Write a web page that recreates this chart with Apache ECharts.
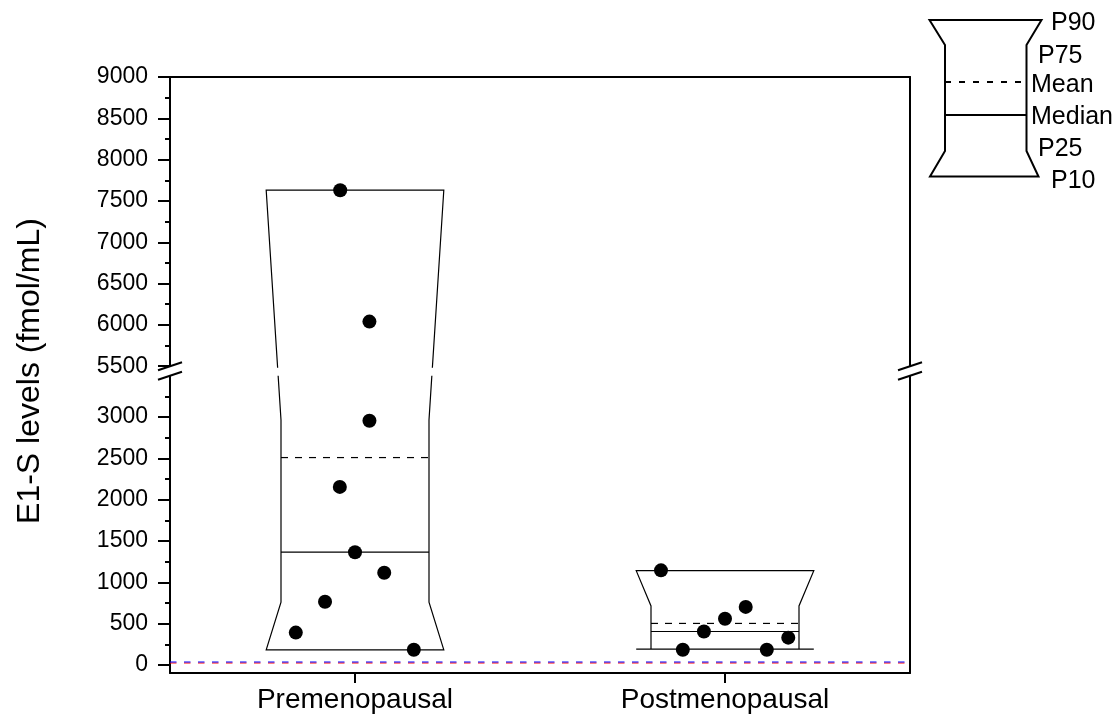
<!DOCTYPE html>
<html>
<head>
<meta charset="utf-8">
<script src="https://cdn.jsdelivr.net/npm/echarts@6/dist/echarts.min.js"></script>
<style>
html, body { margin: 0; padding: 0; background: #fff; }
#chart { width: 1118px; height: 726px; }
</style>
</head>
<body>
<div id="chart"></div>
<script>
// Groups on the x axis (positions 1 and 2)
const groups = ['Premenopausal', 'Postmenopausal'];

// Percentile summary of E1-S levels per group (fmol/mL)
const p10 = [184, 192];
const p25 = [760, 192];
const median = [1365, 405];
const mean = [2510, 503];
const p75 = [2965, 715];
const p90 = [7630, 1142];

// Individual measurements: x = group position with horizontal spread, y = level
const preX = [0.960, 1.039, 1.039, 0.959, 1.000, 1.079, 0.919, 0.840, 1.159];
const preY = [7630, 6040, 2955, 2155, 1365, 1117, 765, 392, 184];
const postX = [1.827, 2.056, 2.000, 1.943, 2.171, 1.886, 2.113];
const postY = [1145, 703, 560, 405, 331, 184, 184];

// Reference limits drawn as dashed lines
const limitBlue = 37;
const limitRed = 24;

// Y axis range, break and ticks
const yMin = -97;
const yMax = 9000;
const breakStart = 3500;
const breakEnd = 5500;
const majorTicks = [0, 500, 1000, 1500, 2000, 2500, 3000, 5500, 6000, 6500, 7000, 7500, 8000, 8500, 9000];
const minorTicks = [250, 750, 1250, 1750, 2250, 2750, 3250, 5750, 6250, 6750, 7250, 7750, 8250, 8750];
const xMin = 0.5;
const xMax = 2.5;

const FONT = '"Liberation Sans", Arial, sans-serif';
const chart = echarts.init(document.getElementById('chart'), null, { renderer: 'canvas' });

const boxData = groups.map((g, i) => [i + 1, p10[i], p25[i], median[i], mean[i], p75[i], p90[i]]);
const preData = preX.map((x, i) => [x, preY[i]]);
const postData = postX.map((x, i) => [x, postY[i]]);

const axisBreaks = [{ start: breakStart, end: breakEnd, gap: '1.6%' }];

function renderBox(params, api) {
  const cx = api.value(0);
  const outer = 0.24, inner = 0.2;
  const v10 = api.value(1), v25 = api.value(2), vMed = api.value(3);
  const vMean = api.value(4), v75 = api.value(5), v90 = api.value(6);
  const pt = (dx, v) => api.coord([cx + dx, v]);
  const outline = [
    pt(-outer, v90), pt(-inner, v75), pt(-inner, v25), pt(-outer, v10),
    pt(outer, v10), pt(inner, v25), pt(inner, v75), pt(outer, v90)
  ];
  const mL = pt(-inner, vMed), mR = pt(inner, vMed);
  const aL = pt(-inner, vMean), aR = pt(inner, vMean);
  return {
    type: 'group',
    children: [
      { type: 'polygon', shape: { points: outline },
        style: { fill: 'none', stroke: '#000', lineWidth: 1.2 } },
      { type: 'line', shape: { x1: mL[0], y1: mL[1], x2: mR[0], y2: mR[1] },
        style: { stroke: '#000', lineWidth: 1.2 } },
      { type: 'line', shape: { x1: aL[0], y1: aL[1], x2: aR[0], y2: aR[1] },
        style: { stroke: '#000', lineWidth: 1.2, lineDash: [7, 7] } }
    ]
  };
}

function limitSeries(value, color) {
  return {
    type: 'line', xAxisIndex: 1, yAxisIndex: 0, silent: true, z: 3,
    data: [[xMin, value], [xMax, value]],
    symbol: 'none', showSymbol: false,
    lineStyle: { color: color, width: 1.1, type: [6.5, 7.5], opacity: 1 }
  };
}

const gridRect = { left: 170, right: 208, top: 77, bottom: 53 };

const option = {
  animation: false,
  backgroundColor: '#fff',
  textStyle: { fontFamily: FONT, color: '#000' },
  grid: [
    Object.assign({ containLabel: false }, gridRect),
    Object.assign({ containLabel: false }, gridRect)
  ],
  xAxis: [
    {
      // group labels and ticks along the bottom
      type: 'category', gridIndex: 0, data: groups, position: 'bottom', boundaryGap: true,
      splitLine: { show: false },
      axisLine: { show: true, onZero: false, lineStyle: { color: '#000', width: 2 } },
      axisTick: { show: true, length: 10, alignWithLabel: true, lineStyle: { color: '#000', width: 2 } },
      axisLabel: { margin: 13, fontSize: 28, color: '#000', fontFamily: FONT }
    },
    {
      // numeric axis used to place the marks; drawn as the top frame line
      type: 'value', gridIndex: 0, min: xMin, max: xMax, position: 'top',
      splitLine: { show: false },
      axisLine: { show: true, onZero: false, lineStyle: { color: '#000', width: 2 } },
      axisTick: { show: false }, axisLabel: { show: false }
    },
    {
      type: 'value', gridIndex: 1, min: xMin, max: xMax, show: false
    }
  ],
  yAxis: [
    {
      type: 'value', gridIndex: 0, min: yMin, max: yMax, position: 'left',
      breaks: axisBreaks, breakArea: { show: false },
      name: 'E1-S levels (fmol/mL)', nameLocation: 'middle', nameGap: 124,
      nameTextStyle: { fontSize: 32, color: '#000', fontFamily: FONT, padding: [0, 0, 0, 8] },
      splitLine: { show: false },
      axisLine: { show: true, onZero: false, lineStyle: { color: '#000', width: 2 } },
      axisTick: { show: true, length: 12, customValues: majorTicks, lineStyle: { color: '#000', width: 2 } },
      axisLabel: {
        customValues: majorTicks, margin: 22, fontSize: 23, color: '#000', fontFamily: FONT,
        formatter: v => String(v)
      }
    },
    {
      type: 'value', gridIndex: 0, min: yMin, max: yMax, position: 'right',
      breaks: axisBreaks, breakArea: { show: false },
      splitLine: { show: false },
      axisLine: { show: true, onZero: false, lineStyle: { color: '#000', width: 2 } },
      axisTick: { show: false }, axisLabel: { show: false }
    },
    {
      type: 'value', gridIndex: 1, min: yMin, max: yMax, position: 'left',
      breaks: axisBreaks, breakArea: { show: false },
      splitLine: { show: false },
      axisLine: { show: false },
      axisTick: { show: true, length: 5, customValues: minorTicks, lineStyle: { color: '#000', width: 2 } },
      axisLabel: { show: false }
    }
  ],
  series: [
    {
      type: 'custom', name: 'box', xAxisIndex: 1, yAxisIndex: 0,
      renderItem: renderBox, data: boxData, silent: true, z: 2
    },
    limitSeries(limitRed, '#ff0000'),
    limitSeries(limitBlue, '#0000ff'),
    {
      type: 'scatter', name: groups[0], xAxisIndex: 1, yAxisIndex: 0,
      data: preData, symbol: 'circle', symbolSize: 14,
      itemStyle: { color: '#000', opacity: 1 }, z: 5, silent: true
    },
    {
      type: 'scatter', name: groups[1], xAxisIndex: 1, yAxisIndex: 0,
      data: postData, symbol: 'circle', symbolSize: 14,
      itemStyle: { color: '#000', opacity: 1 }, z: 5, silent: true
    }
  ]
};

chart.setOption(option);

// Break decoration: white band across the plot and paired slashes on both frame sides
const yUpper = chart.convertToPixel({ yAxisIndex: 0 }, breakEnd);
const yLower = chart.convertToPixel({ yAxisIndex: 0 }, breakStart);
const xLeft = chart.convertToPixel({ xAxisIndex: 1 }, xMin);
const xRight = chart.convertToPixel({ xAxisIndex: 1 }, xMax);

function slash(x, y) {
  return {
    type: 'line', z: 200,
    shape: { x1: x - 12, y1: y + 4, x2: x + 12, y2: y - 4 },
    style: { stroke: '#000', lineWidth: 2 }
  };
}

// Key explaining the percentile shape
const key = {
  type: 'group', z: 200,
  children: [
    { type: 'polygon',
      shape: { points: [[929.5, 20], [945, 45], [945, 151], [930, 176.5], [1038.5, 176.5], [1026.5, 151], [1026.5, 45], [1041.5, 20]] },
      style: { fill: 'none', stroke: '#000', lineWidth: 2 } },
    { type: 'line', shape: { x1: 945, y1: 82, x2: 1026.5, y2: 82 },
      style: { stroke: '#000', lineWidth: 2, lineDash: [6, 8] } },
    { type: 'line', shape: { x1: 945, y1: 115, x2: 1026.5, y2: 115 },
      style: { stroke: '#000', lineWidth: 2 } },
    ...[
      ['P90', 1051, 23], ['P75', 1038, 56], ['Mean', 1031, 85],
      ['Median', 1031, 117], ['P25', 1038, 149], ['P10', 1051, 181]
    ].map(([t, x, y]) => ({
      type: 'text', x: x, y: y,
      style: { text: t, fill: '#000', font: '25px ' + FONT, textAlign: 'left', textVerticalAlign: 'middle' }
    }))
  ]
};

chart.setOption({
  graphic: [
    {
      type: 'rect', z: 150,
      shape: { x: xLeft - 6, y: yUpper + 1.5, width: xRight - xLeft + 12, height: yLower - yUpper - 1.5 },
      style: { fill: '#fff' }
    },
    slash(xLeft, yUpper), slash(xLeft, yLower),
    slash(xRight, yUpper), slash(xRight, yLower),
    key
  ]
});
</script>
</body>
</html>
